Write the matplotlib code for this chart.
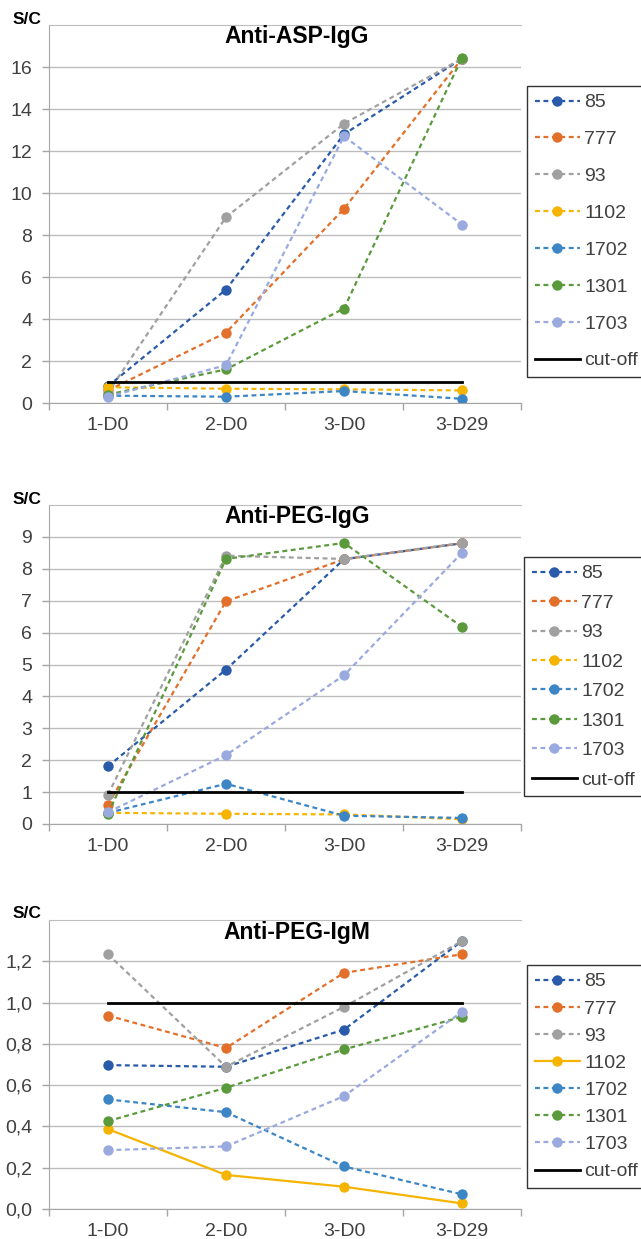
import numpy as np
import matplotlib
matplotlib.use('Agg')
import matplotlib.pyplot as plt
from matplotlib.ticker import FuncFormatter

plt.rcParams['font.family'] = ['Liberation Sans', 'DejaVu Sans']

# Dados
categorias = ['1-D0', '2-D0', '3-D0', '3-D29']
amostras = ['85', '777', '93', '1102', '1702', '1301', '1703']
cores = ['#2A5BAA', '#E2702B', '#A0A0A0', '#F5B400', '#3C86C6', '#5B9A3C', '#9AAADF']
cutoff = [1, 1, 1, 1]

asp_igg = [
    [0.8, 5.4, 12.8, 16.4],
    [0.6, 3.35, 9.25, 16.4],
    [0.5, 8.85, 13.3, 16.4],
    [0.75, 0.68, 0.65, 0.6],
    [0.35, 0.3, 0.57, 0.2],
    [0.4, 1.6, 4.5, 16.45],
    [0.3, 1.8, 12.7, 8.5],
]
peg_igg = [
    [1.81, 4.84, 8.3, 8.8],
    [0.6, 6.98, 8.3, 8.8],
    [0.92, 8.41, 8.31, 8.81],
    [0.35, 0.32, 0.3, 0.15],
    [0.35, 1.26, 0.26, 0.19],
    [0.32, 8.31, 8.81, 6.18],
    [0.37, 2.16, 4.66, 8.5],
]
peg_igm = [
    [0.697, 0.689, 0.869, 1.298],
    [0.937, 0.78, 1.144, 1.234],
    [1.234, 0.689, 0.979, 1.298],
    [0.387, 0.165, 0.108, 0.027],
    [0.531, 0.469, 0.206, 0.071],
    [0.426, 0.587, 0.773, 0.931],
    [0.285, 0.303, 0.547, 0.955],
]

W, H = 641, 1239
fig = plt.figure(figsize=(W / 100, H / 100), dpi=100)

def eixo_px(esq, topo, dir, base):
    return fig.add_axes([esq / W, 1 - base / H, (dir - esq) / W, (base - topo) / H])

paineis = [
    # dados, titulo, ymax, yticks, caixa (esq, topo, dir, base), legenda (x, y), espacamento, virgula, 1102 solida
    (asp_igg, 'Anti-ASP-IgG', 18, np.arange(0, 17, 2), (49, 25, 521, 403), (527, 86), 0.99, False, False),
    (peg_igg, 'Anti-PEG-IgG', 10, np.arange(0, 10, 1), (49, 505, 521, 824), (524, 557), 0.61, False, False),
    (peg_igm, 'Anti-PEG-IgM', 1.4, np.arange(0, 1.21, 0.2), (49, 920, 521, 1209), (527, 965), 0.49, True, True),
]

x = np.arange(len(categorias))
cor_grade = '#BDBDBD'

for dados, titulo, ymax, yticks, caixa, pos_leg, espac, virgula, solida in paineis:
    ax = eixo_px(*caixa)
    for i, (nome, cor) in enumerate(zip(amostras, cores)):
        estilo = '-' if (solida and nome == '1102') else (0, (2.2, 1.6))
        ax.plot(x, dados[i], linestyle=estilo, color=cor, lw=1.6, marker='o',
                markersize=7.5, markeredgewidth=0, label=nome)
    ax.plot(x, cutoff, color='black', lw=2, label='cut-off')

    ax.set_xlim(-0.5, 3.5)
    ax.set_ylim(0, ymax)
    ax.set_xticks(x)
    ax.set_xticklabels(categorias)
    ax.set_xticks(np.arange(-0.5, 3.6, 1), minor=True)
    ax.tick_params(axis='x', which='major', length=0, pad=10, labelsize=14, labelcolor='#404040')
    ax.tick_params(axis='x', which='minor', length=5, color='#A6A6A6', width=1)
    ax.set_yticks(yticks)
    if virgula:
        ax.yaxis.set_major_formatter(FuncFormatter(lambda v, p: f'{v:.1f}'.replace('.', ',')))
    else:
        ax.yaxis.set_major_formatter(FuncFormatter(lambda v, p: f'{v:.0f}'))
    ax.tick_params(axis='y', length=5, color='#A6A6A6', width=1, pad=7, labelsize=14, labelcolor='#404040')
    ax.grid(axis='y', color=cor_grade, lw=1)
    ax.set_axisbelow(True)
    for s in ['left', 'bottom']:
        ax.spines[s].set_color('#A6A6A6')
    ax.spines['top'].set_color(cor_grade)
    ax.spines['right'].set_visible(False)

    esq, topo, dir, base = caixa
    fig.text(297 / W, 1 - (topo + 12) / H, titulo, ha='center', va='center',
             fontsize=16.5, fontweight='bold')
    fig.text(27 / W, 1 - (topo - 6) / H, 'S/C', ha='center', va='center',
             fontsize=12.5, fontweight='bold')

    leg = ax.legend(loc='upper left', bbox_to_anchor=(pos_leg[0] / W, 1 - pos_leg[1] / H),
                    bbox_transform=fig.transFigure, frameon=True, fancybox=False,
                    edgecolor='black', fontsize=14, handlelength=2.3, handletextpad=0.25,
                    borderpad=0.4, labelspacing=espac, borderaxespad=0)
    leg.get_frame().set_linewidth(1)
    for t in leg.get_texts():
        t.set_color('#404040')

plt.savefig('out.png', dpi=100)
